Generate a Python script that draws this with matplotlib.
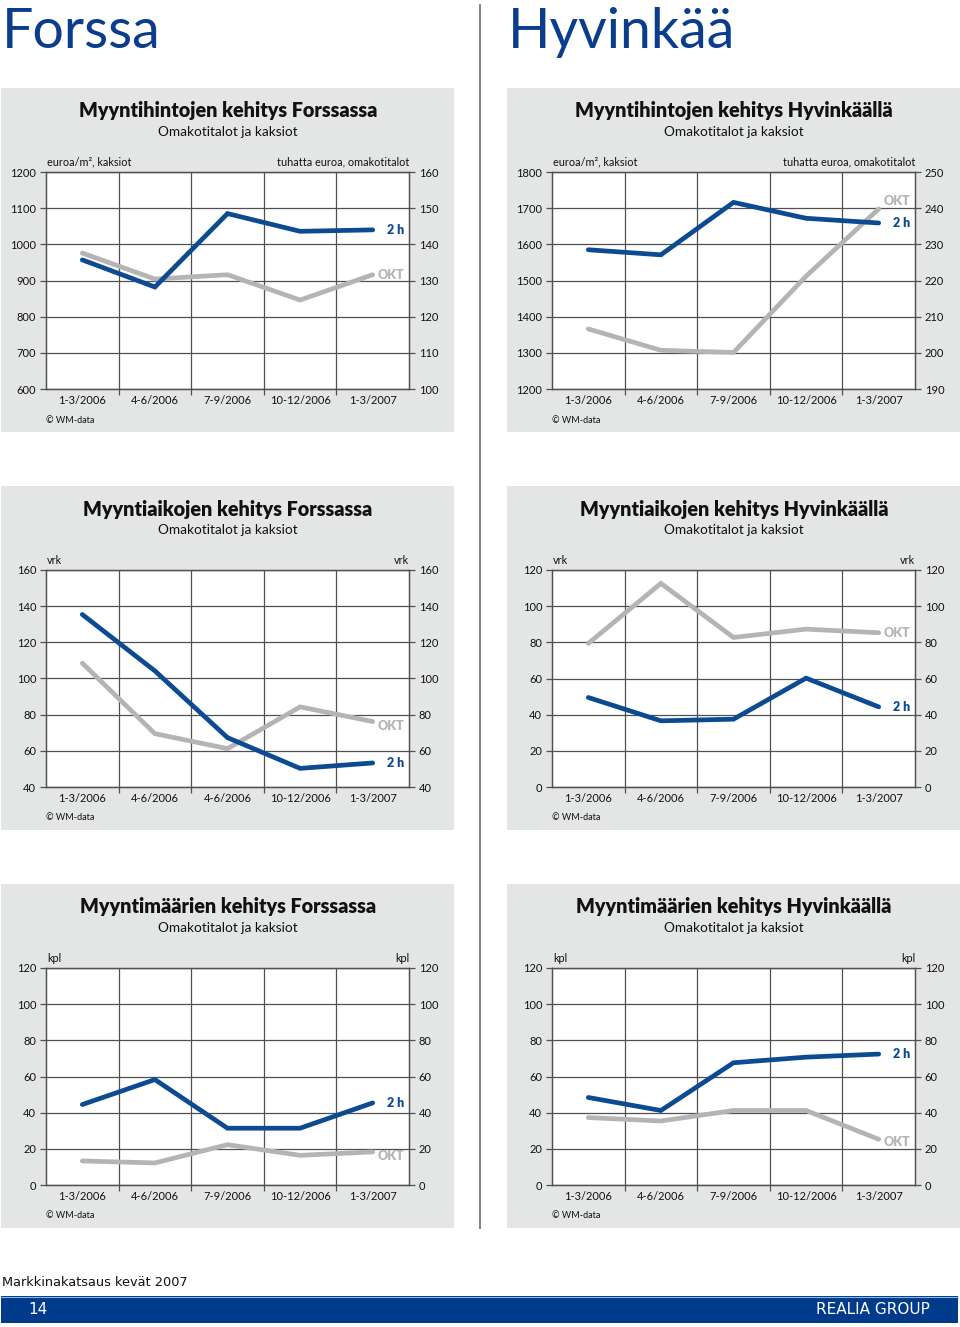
import numpy as np
import matplotlib
matplotlib.use("Agg")
import matplotlib.pyplot as plt
from matplotlib.patches import Rectangle
from matplotlib.lines import Line2D

W, H = 960, 1327
FONT = "Lato"
BLUE = "#0c4a92"
GREY = "#b4b4b4"
BOX = "#e4e5e5"
GRID = "#505050"

kaudet = ["1-3/2006", "4-6/2006", "7-9/2006", "10-12/2006", "1-3/2007"]
kaudet_aika_forssa = ["1-3/2006", "4-6/2006", "4-6/2006", "10-12/2006", "1-3/2007"]

# myyntihinnat
hinta_forssa_2h = [957, 882, 1085, 1036, 1040]
hinta_forssa_okt = [137.6, 130.4, 131.6, 124.6, 131.6]
hinta_hyv_2h = [1585, 1571, 1716, 1672, 1659]
hinta_hyv_okt = [206.6, 200.7, 200.1, 221.2, 239.8]

# myyntiajat
aika_forssa_2h = [135.4, 104.2, 67.3, 50.3, 53.3]
aika_forssa_okt = [108.5, 69.5, 61.2, 84.3, 76.2]
aika_hyv_2h = [49.5, 36.6, 37.5, 60.2, 44.3]
aika_hyv_okt = [79.4, 112.6, 82.7, 87.3, 85.3]

# myyntimaarat
maara_forssa_2h = [44.5, 58.3, 31.4, 31.4, 45.4]
maara_forssa_okt = [13.3, 12.2, 22.3, 16.4, 18.3]
maara_hyv_2h = [48.4, 41.2, 67.6, 70.7, 72.4]
maara_hyv_okt = [37.3, 35.4, 41.2, 41.2, 25.3]


def fx(x):
    return x / W


def fy(y):
    return 1 - y / H


fig = plt.figure(figsize=(9.6, 13.27), dpi=100)
fig.patch.set_facecolor("white")


def panel(bx, by, title, labels, blue, grey, lticks, rticks, lunit, runit, dy_blue=0, dy_grey=0):
    # harmaa tausta
    fig.add_artist(Rectangle((fx(bx), fy(by + 344)), 453 / W, 344 / H,
                             transform=fig.transFigure, facecolor=BOX, edgecolor="none", zorder=-5))
    cx = bx + 227
    fig.text(fx(cx), fy(by + 23), title, ha="center", va="center", fontsize=14.2,
             fontweight="heavy", family=FONT, color="#111111")
    fig.text(fx(cx), fy(by + 44), "Omakotitalot ja kaksiot", ha="center", va="center",
             fontsize=9.8, family=FONT, color="#111111")

    left, right, top, bottom = bx + 45, bx + 408, by + 84, by + 301
    ax = fig.add_axes([fx(left), fy(bottom), (right - left) / W, (bottom - top) / H])
    ax2 = ax.twinx()
    ax.yaxis.tick_right()
    ax2.yaxis.tick_left()
    ax.set_facecolor("white")

    x = np.arange(len(labels))
    ax.plot(x, grey, color=GREY, lw=3.4, solid_capstyle="round", solid_joinstyle="miter", zorder=3)
    ax2.plot(x, blue, color=BLUE, lw=3.4, solid_capstyle="round", solid_joinstyle="miter", zorder=3)

    ax.set_xlim(-0.5, len(labels) - 0.5)
    ax.set_ylim(rticks[0], rticks[-1])
    ax2.set_ylim(lticks[0], lticks[-1])
    ax.set_yticks(rticks)
    ax2.set_yticks(lticks)
    ax.set_xticks(x)
    ax.set_xticklabels(labels)
    ax.set_xticks(np.arange(0.5, len(labels) - 1, 1), minor=True)

    ax.grid(True, which="minor", axis="x", color=GRID, lw=0.9)
    ax.grid(True, which="major", axis="y", color=GRID, lw=0.9)
    ax.set_axisbelow(True)

    for a in (ax, ax2):
        for s in a.spines.values():
            s.set_color(GRID)
            s.set_linewidth(0.9)
    ax.tick_params(axis="x", which="major", length=0, pad=4, labelsize=8)
    ax.tick_params(axis="x", which="minor", length=4, width=0.9, color=GRID, direction="out")
    ax.tick_params(axis="y", length=4, width=0.9, color=GRID, direction="out", pad=3, labelsize=8)
    ax2.tick_params(axis="y", length=4, width=0.9, color=GRID, direction="out", pad=3, labelsize=8)
    for t in ax.get_xticklabels() + ax.get_yticklabels() + ax2.get_yticklabels():
        t.set_family(FONT)
        t.set_color("#111111")

    ax2.annotate("2 h", xy=(0.986, blue[-1]), xycoords=("axes fraction", "data"),
                 xytext=(0, dy_blue), textcoords="offset points", ha="right", va="center",
                 fontsize=9, fontweight="heavy", family=FONT, color=BLUE)
    ax.annotate("OKT", xy=(0.986, grey[-1]), xycoords=("axes fraction", "data"),
                xytext=(0, dy_grey), textcoords="offset points", ha="right", va="center",
                fontsize=9, fontweight="heavy", family=FONT, color=GREY)

    fig.text(fx(left + 1), fy(by + 74), lunit, ha="left", va="center", fontsize=7.8,
             family=FONT, color="#111111")
    fig.text(fx(right), fy(by + 74), runit, ha="right", va="center", fontsize=7.8,
             family=FONT, color="#111111")
    fig.text(fx(left), fy(by + 332), "© WM-data", ha="left", va="center", fontsize=6.5,
             family=FONT, color="#111111")


# otsikot
fig.text(fx(2), fy(48), "Forssa", ha="left", va="baseline", fontsize=40, family=FONT, color="#0b3d8c")
fig.text(fx(508), fy(48), "Hyvinkää", ha="left", va="baseline", fontsize=40, family=FONT, color="#0b3d8c")
fig.add_artist(Line2D([fx(480), fx(480)], [fy(5), fy(1228)], transform=fig.transFigure,
                      color="#777777", lw=1.3))

panel(1, 88, "Myyntihintojen kehitys Forssassa", kaudet, hinta_forssa_2h, hinta_forssa_okt,
      np.arange(600, 1201, 100), np.arange(100, 161, 10),
      "euroa/m², kaksiot", "tuhatta euroa, omakotitalot")
panel(507, 88, "Myyntihintojen kehitys Hyvinkäällä", kaudet, hinta_hyv_2h, hinta_hyv_okt,
      np.arange(1200, 1801, 100), np.arange(190, 251, 10),
      "euroa/m², kaksiot", "tuhatta euroa, omakotitalot", dy_grey=6)
panel(1, 486, "Myyntiaikojen kehitys Forssassa", kaudet_aika_forssa, aika_forssa_2h, aika_forssa_okt,
      np.arange(40, 161, 20), np.arange(40, 161, 20), "vrk", "vrk", dy_grey=-3)
panel(507, 486, "Myyntiaikojen kehitys Hyvinkäällä", kaudet, aika_hyv_2h, aika_hyv_okt,
      np.arange(0, 121, 20), np.arange(0, 121, 20), "vrk", "vrk")
panel(1, 884, "Myyntimäärien kehitys Forssassa", kaudet, maara_forssa_2h, maara_forssa_okt,
      np.arange(0, 121, 20), np.arange(0, 121, 20), "kpl", "kpl", dy_grey=-3)
panel(507, 884, "Myyntimäärien kehitys Hyvinkäällä", kaudet, maara_hyv_2h, maara_hyv_okt,
      np.arange(0, 121, 20), np.arange(0, 121, 20), "kpl", "kpl", dy_grey=-2)

# alatunniste
fig.text(fx(2), fy(1282), "Markkinakatsaus kevät 2007", ha="left", va="center", fontsize=9.3,
         family="DejaVu Sans", color="#111111")
fig.add_artist(Rectangle((fx(1), fy(1323)), 957 / W, 27 / H, transform=fig.transFigure,
                         facecolor="#003a8a", edgecolor="none", zorder=-5))
fig.add_artist(Line2D([fx(1), fx(958)], [fy(1296.5), fy(1296.5)], transform=fig.transFigure,
                      color="#8fb3e0", lw=0.8))
fig.text(fx(28), fy(1310), "14", ha="left", va="center", fontsize=11,
         family="DejaVu Sans", color="white")
fig.text(fx(930), fy(1310), "REALIA GROUP", ha="right", va="center", fontsize=11,
         family="DejaVu Sans", color="white")

fig.savefig("out.png", dpi=100)
